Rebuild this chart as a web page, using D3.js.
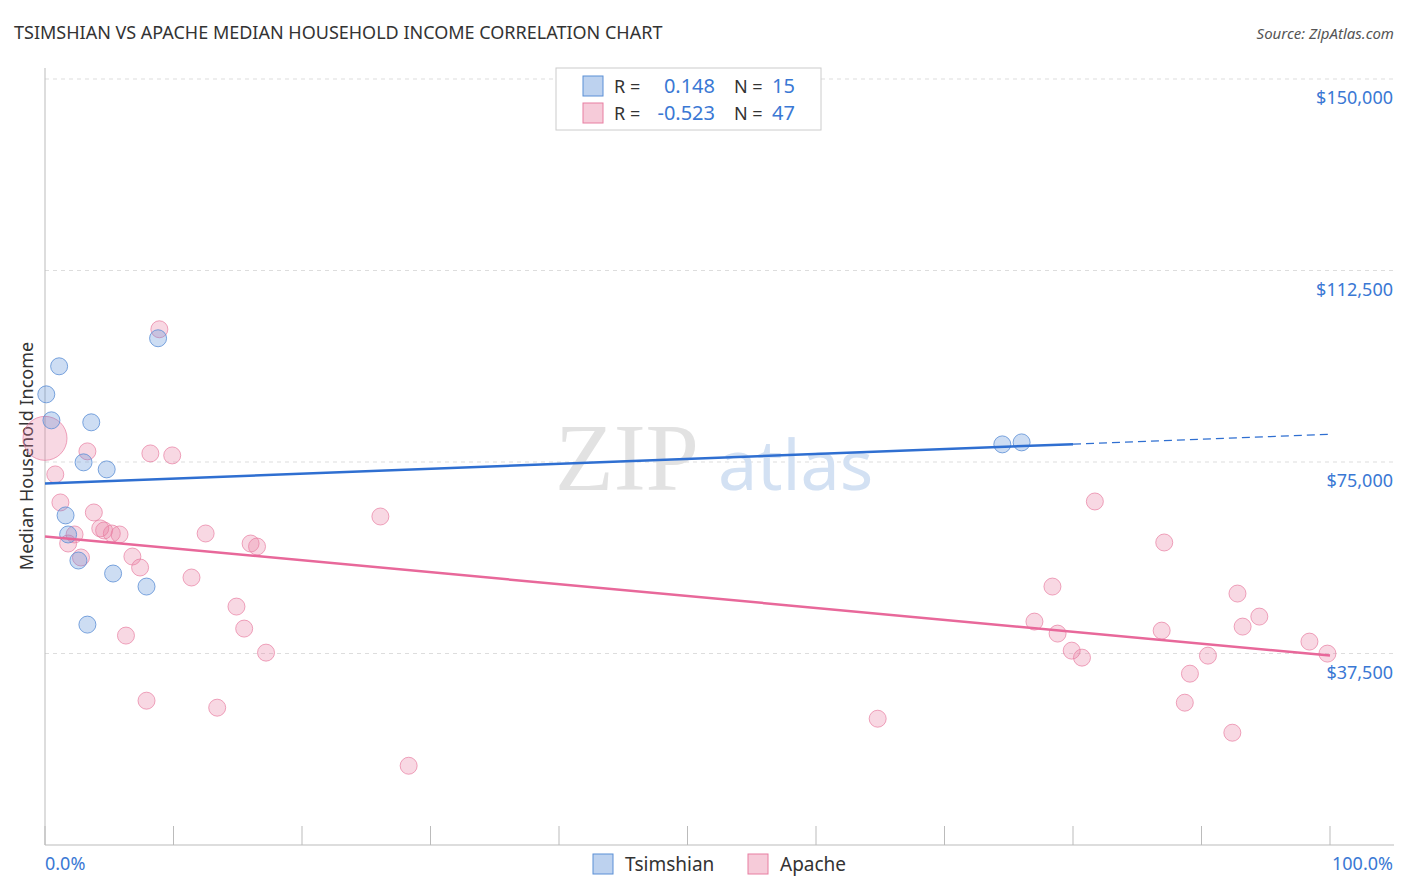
<!DOCTYPE html>
<html><head><meta charset="utf-8">
<script src="https://cdn.jsdelivr.net/npm/d3@7"></script>
<style>body{margin:0;background:#fff;font-family:"Noto Sans",Roboto,sans-serif}</style>
</head><body><svg id="c" width="1406" height="892"></svg>
<script>
const tsimX=[0.1,0.5,1.1,3.6,3.0,4.8,1.6,1.8,2.6,5.3,7.9,3.3,8.8,74.5,76.0];
const tsimY=[88250,83160,93740,82770,74930,73550,64540,60810,55710,53160,50610,43160,99230,78450,78840];
const apX=[0,0.8,1.2,1.8,2.3,2.8,3.3,3.8,4.6,5.2,5.8,6.3,6.8,7.4,7.9,8.2,8.9,9.9,11.4,12.5,13.4,14.9,15.5,16.0,16.5,17.2,26.1,28.3,64.8,77.0,78.4,78.8,79.9,80.7,81.7,86.9,87.1,88.7,89.1,90.5,92.4,92.8,93.2,94.5,98.4,99.8,4.3];
const apY=[79630,72570,67080,59040,60810,56300,77080,65120,61590,61000,60810,41010,56490,54340,28260,76680,100990,76290,52380,61000,26890,46690,42380,59040,58450,37670,64330,15520,24730,43750,50610,41400,38060,36690,67270,41980,59240,27870,33550,37080,21990,49240,42770,44730,39830,37480,62000];
const tsimTrend=[70800,80420]; // at 0% and 100%
const apTrend=[60420,37090];
const yTicks=[37500,75000,112500,150000];
const blue="#5b8fd6", pink="#e87ea1", blueLine="#2f6fd1", pinkLine="#e8689a";
const svg=d3.select("#c");
const x=d3.scaleLinear().domain([0,100]).range([45,1330]);
const y=d3.scaleLinear().domain([0,150000]).range([845,79]);
svg.append("text").attr("x",14).attr("y",39).attr("font-size",18).attr("fill","#333").text("TSIMSHIAN VS APACHE MEDIAN HOUSEHOLD INCOME CORRELATION CHART");
svg.append("text").attr("x",1394).attr("y",39).attr("text-anchor","end").attr("font-size",15).attr("font-style","italic").attr("fill","#555").text("Source: ZipAtlas.com");
yTicks.forEach(t=>{svg.append("line").attr("x1",45).attr("x2",1394).attr("y1",y(t)).attr("y2",y(t)).attr("stroke","#ddd").attr("stroke-dasharray","4,4");
svg.append("text").attr("x",1393).attr("y",y(t)+25).attr("text-anchor","end").attr("font-size",18).attr("fill","#3a78d4").text("$"+d3.format(",")(t));});
svg.append("line").attr("x1",45).attr("x2",45).attr("y1",68).attr("y2",845).attr("stroke","#bbb");
svg.append("line").attr("x1",45).attr("x2",1394).attr("y1",845).attr("y2",845).attr("stroke","#bbb");
d3.range(0,101,10).forEach(t=>svg.append("line").attr("x1",x(t)).attr("x2",x(t)).attr("y1",826).attr("y2",845).attr("stroke","#bbb"));
svg.append("text").attr("x",45).attr("y",870).attr("font-size",18).attr("fill","#3a78d4").text("0.0%");
svg.append("text").attr("x",1393).attr("y",870).attr("text-anchor","end").attr("font-size",18).attr("fill","#3a78d4").text("100.0%");
svg.append("text").attr("transform","translate(33,456) rotate(-90)").attr("text-anchor","middle").attr("font-size",18).attr("fill","#333").text("Median Household Income");
svg.append("text").attr("x",555).attr("y",490).attr("font-size",96).attr("font-family","Liberation Serif,serif").attr("fill","#e2e2e2").text("ZIP");
svg.append("text").attr("x",718).attr("y",490).attr("font-size",70).attr("fill","#d3e1f3").text("atlas");
const g=svg.append("g");
apX.forEach((v,i)=>g.append("circle").attr("cx",x(v)).attr("cy",y(apY[i])).attr("r",i==0?22:8.5).attr("fill",pink).attr("fill-opacity",0.3).attr("stroke",pink).attr("stroke-opacity",0.7));
tsimX.forEach((v,i)=>g.append("circle").attr("cx",x(v)).attr("cy",y(tsimY[i])).attr("r",8.5).attr("fill",blue).attr("fill-opacity",0.3).attr("stroke",blue).attr("stroke-opacity",0.8));
const tv=p=>tsimTrend[0]+(tsimTrend[1]-tsimTrend[0])*p/100;
svg.append("line").attr("x1",x(0)).attr("y1",y(tv(0))).attr("x2",x(80)).attr("y2",y(tv(80))).attr("stroke",blueLine).attr("stroke-width",2.5);
svg.append("line").attr("x1",x(80)).attr("y1",y(tv(80))).attr("x2",x(100)).attr("y2",y(tv(100))).attr("stroke",blueLine).attr("stroke-width",1.2).attr("stroke-dasharray","8,5");
svg.append("line").attr("x1",x(0)).attr("y1",y(apTrend[0])).attr("x2",x(100)).attr("y2",y(apTrend[1])).attr("stroke",pinkLine).attr("stroke-width",2.5);
svg.append("rect").attr("x",556).attr("y",68).attr("width",265).attr("height",62).attr("fill","#fff").attr("stroke","#ccc");
[[blue,"0.148","15",86],[pink,"-0.523","47",113]].forEach(([c,r,n,yy])=>{
svg.append("rect").attr("x",583).attr("y",yy-10).attr("width",20).attr("height",20).attr("fill",c).attr("fill-opacity",0.4).attr("stroke",c);
svg.append("text").attr("x",614).attr("y",yy+7).attr("font-size",18).attr("fill","#333").text("R =");
svg.append("text").attr("x",715).attr("y",yy+7).attr("text-anchor","end").attr("font-size",20).attr("fill","#3a78d4").text(r);
svg.append("text").attr("x",734).attr("y",yy+7).attr("font-size",18).attr("fill","#333").text("N =");
svg.append("text").attr("x",772).attr("y",yy+7).attr("font-size",20).attr("fill","#3a78d4").text(n);});
[[blue,"Tsimshian",593],[pink,"Apache",748]].forEach(([c,t,xx])=>{
svg.append("rect").attr("x",xx).attr("y",854).attr("width",20).attr("height",20).attr("fill",c).attr("fill-opacity",0.4).attr("stroke",c);
svg.append("text").attr("x",xx+32).attr("y",871).attr("font-size",19).attr("fill","#333").text(t);});
</script></body></html>
